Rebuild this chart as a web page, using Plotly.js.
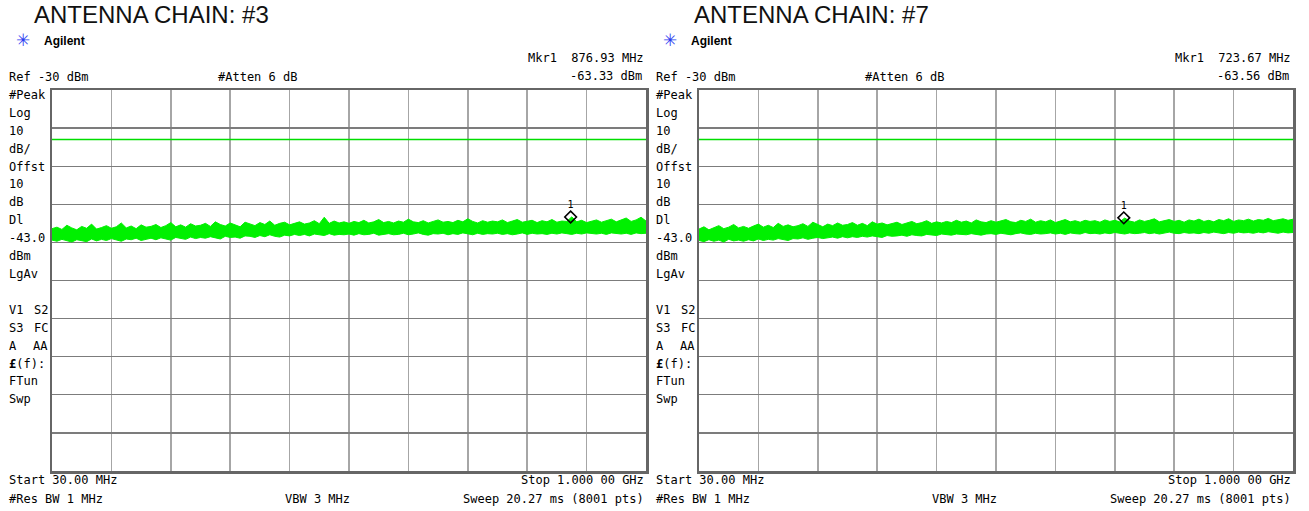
<!DOCTYPE html>
<html>
<head>
<meta charset="utf-8">
<script src="https://cdn.plot.ly/plotly-3.0.1.min.js"></script>
<style>
html,body{margin:0;padding:0;background:#fff;}
#chart{width:1309px;height:511px;}
</style>
</head>
<body>
<div id="chart"></div>
<script>
// ---------- data ----------
const chartTitles = ["ANTENNA CHAIN: #3", "ANTENNA CHAIN: #7"];
const refLevelDbm = -30;
const dbPerDiv = 10;
const displayLineDbm = -43.0;
const sweepStartMHz = 30;
const sweepStopMHz = 1000;
const markerFreqMHz = [876.93, 723.67];
const markerDbm = [-63.33, -63.56];
const headerLeft = "Ref -30 dBm";
const headerMid = "#Atten 6 dB";
const markerFreqText = ["Mkr1  876.93 MHz", "Mkr1  723.67 MHz"];
const markerAmpText = ["-63.33 dBm", "-63.56 dBm"];
const sideLabelsLeft = ["#Peak","Log","10","dB/","Offst","10","dB","Dl","-43.0","dBm","LgAv","","V1","S3","A","<b>£</b>(f):","FTun","Swp"];
const sideLabelsRight = ["","","","","","","","","","","","","S2","FC","AA","","",""];
const footStart = "Start 30.00 MHz";
const footStop = "Stop 1.000 00 GHz";
const footRbw = "#Res BW 1 MHz";
const footVbw = "VBW 3 MHz";
const footSweep = "Sweep 20.27 ms (8001 pts)";

// trace envelopes (dBm), 121 points evenly spread over the sweep
const traceHigh3 = [
-66.4,-66.0,-66.6,-65.5,-66.2,-66.7,-65.8,-66.3,-65.2,-66.5,
-66.1,-65.6,-66.3,-65.9,-64.9,-66.2,-65.7,-66.4,-65.4,-66.0,
-65.8,-65.3,-66.1,-65.6,-64.8,-65.9,-65.4,-66.0,-65.1,-65.7,
-65.5,-65.0,-65.8,-64.6,-65.3,-65.7,-64.9,-65.4,-65.9,-64.7,
-65.2,-65.6,-64.8,-65.3,-64.4,-65.5,-65.0,-64.7,-65.4,-64.9,
-64.6,-65.2,-64.9,-64.3,-65.1,-63.4,-65.0,-64.4,-64.9,-64.6,
-65.0,-64.5,-64.8,-64.2,-64.9,-64.6,-64.0,-64.8,-64.5,-64.9,
-64.4,-64.7,-63.9,-64.6,-64.8,-64.3,-64.9,-64.5,-64.1,-64.7,
-64.5,-64.8,-64.2,-64.6,-63.8,-64.5,-64.9,-64.3,-64.7,-64.4,
-64.6,-64.1,-64.8,-64.4,-64.0,-64.7,-64.5,-64.2,-64.8,-64.3,
-64.6,-64.0,-64.7,-64.4,-64.5,-63.3,-64.6,-64.2,-64.8,-64.4,
-64.1,-64.7,-64.3,-63.9,-64.6,-64.2,-63.6,-64.5,-64.1,-63.4,-64.4];
const traceLow3 = [
-69.4,-69.7,-69.2,-69.6,-69.9,-69.3,-69.5,-69.8,-69.1,-69.6,
-69.2,-69.5,-69.0,-69.4,-69.7,-69.1,-69.3,-68.9,-69.5,-69.2,
-68.9,-69.3,-68.8,-69.1,-69.4,-68.7,-69.0,-69.2,-68.6,-69.0,
-68.7,-68.9,-68.5,-68.8,-69.1,-68.4,-68.7,-68.6,-68.9,-68.3,
-68.4,-68.7,-68.2,-68.5,-68.0,-68.4,-68.6,-68.1,-68.3,-67.9,
-68.2,-67.9,-68.3,-67.8,-68.0,-68.2,-67.7,-68.1,-67.9,-68.0,
-67.8,-68.1,-67.7,-68.0,-67.9,-67.6,-68.1,-67.8,-67.7,-68.0,
-67.9,-67.6,-68.0,-67.8,-67.5,-67.9,-68.1,-67.7,-67.8,-67.6,
-68.0,-67.7,-67.9,-67.5,-67.8,-68.0,-67.6,-67.9,-67.7,-67.8,
-67.6,-67.9,-67.7,-68.0,-67.8,-67.5,-67.9,-67.6,-67.8,-67.7,
-67.9,-67.6,-67.8,-67.5,-67.7,-67.9,-67.6,-67.8,-67.5,-67.7,
-67.8,-67.6,-67.9,-67.5,-67.7,-67.8,-67.6,-67.9,-67.5,-67.7,-67.6];
const traceHigh7 = [
-66.5,-65.9,-66.7,-66.1,-65.6,-66.4,-66.0,-65.3,-66.2,-65.8,
-66.3,-65.7,-65.2,-66.0,-65.5,-66.1,-65.0,-65.8,-65.4,-65.9,
-65.6,-65.1,-65.8,-64.7,-65.4,-65.9,-65.2,-65.6,-64.9,-65.5,
-65.3,-64.8,-65.5,-65.0,-65.6,-64.6,-65.2,-64.9,-65.4,-65.0,
-64.7,-65.3,-64.9,-64.5,-65.1,-64.8,-64.3,-65.0,-64.6,-64.9,
-64.5,-64.8,-64.2,-64.7,-64.4,-64.9,-64.1,-64.6,-64.8,-64.3,
-64.7,-64.4,-64.0,-64.6,-64.8,-64.2,-64.5,-63.9,-64.7,-64.3,
-64.6,-64.1,-64.8,-64.4,-64.0,-64.6,-64.3,-64.7,-64.2,-64.5,
-64.3,-64.7,-64.1,-64.5,-64.2,-64.6,-63.6,-64.4,-64.7,-64.1,
-64.5,-64.2,-63.8,-64.6,-64.3,-64.0,-64.5,-64.2,-64.7,-64.1,
-64.4,-63.9,-64.5,-64.2,-64.6,-64.0,-64.3,-63.8,-64.5,-64.1,
-64.3,-63.9,-64.4,-64.0,-64.2,-63.7,-64.3,-64.0,-63.8,-64.2,-63.9];
const traceLow7 = [
-69.5,-69.8,-69.3,-69.7,-69.4,-69.9,-69.2,-69.6,-69.4,-69.7,
-69.3,-69.6,-69.1,-69.5,-69.2,-69.4,-69.0,-69.3,-69.5,-69.0,
-69.1,-68.8,-69.2,-68.9,-68.7,-69.0,-68.8,-68.6,-68.9,-68.5,
-68.8,-68.5,-68.7,-68.4,-68.6,-68.3,-68.5,-68.7,-68.2,-68.4,
-68.3,-68.1,-68.4,-68.0,-68.2,-68.3,-67.9,-68.1,-68.2,-67.8,
-68.0,-68.1,-67.8,-67.9,-68.0,-67.7,-67.9,-68.1,-67.8,-67.7,
-67.9,-67.6,-67.8,-68.0,-67.7,-67.5,-67.8,-67.9,-67.6,-67.8,
-67.7,-67.5,-67.8,-67.6,-67.9,-67.5,-67.7,-67.8,-67.4,-67.7,
-67.6,-67.8,-67.5,-67.7,-67.4,-67.6,-67.8,-67.5,-67.7,-67.6,
-67.4,-67.7,-67.5,-67.8,-67.6,-67.3,-67.6,-67.7,-67.4,-67.6,
-67.5,-67.7,-67.4,-67.6,-67.3,-67.5,-67.7,-67.4,-67.6,-67.3,
-67.5,-67.4,-67.6,-67.3,-67.5,-67.2,-67.4,-67.6,-67.3,-67.5,-67.4];

const highs = [traceHigh3, traceHigh7];
const lows = [traceLow3, traceLow7];

// ---------- build ----------
const W = 1309, H = 511;
const px = x => x / W;
const py = y => 1 - y / H;

function sweepFreqs(n) {
  const out = [];
  for (let i = 0; i < n; i++) out.push(sweepStartMHz + i * (sweepStopMHz - sweepStartMHz) / (n - 1));
  return out;
}

const traceGreen = '#00f000';
const dlGreen = '#00dd00';
const mono = "DejaVu Sans Mono, Liberation Mono, monospace";

const data = [];
const annotations = [];
const offsets = [0, 647];
const titleX = [32, 692];

for (let c = 0; c < 2; c++) {
  const xa = c === 0 ? 'x' : 'x2';
  const ya = c === 0 ? 'y' : 'y2';
  const f = sweepFreqs(highs[c].length);
  data.push({x: [sweepStartMHz, sweepStopMHz], y: [displayLineDbm, displayLineDbm], xaxis: xa, yaxis: ya,
    mode: 'lines', line: {color: dlGreen, width: 1.6}});
  data.push({x: f, y: lows[c], xaxis: xa, yaxis: ya, mode: 'lines', line: {color: traceGreen, width: 1}});
  data.push({x: f, y: highs[c], xaxis: xa, yaxis: ya, mode: 'lines', fill: 'tonexty', fillcolor: traceGreen,
    line: {color: traceGreen, width: 1}});
  data.push({x: [markerFreqMHz[c]], y: [markerDbm[c]], xaxis: xa, yaxis: ya, mode: 'markers+text',
    marker: {symbol: 'diamond-open', size: 9, color: '#000', line: {color: '#000', width: 1.6}},
    text: ['1'], textposition: 'top center', textfont: {family: mono, size: 10, color: '#000'}});

  const o = offsets[c];
  const ann = (text, x, y, xanchor, opts) => annotations.push(Object.assign({
    text: text, x: px(x + o), y: py(y), xref: 'paper', yref: 'paper', xanchor: xanchor, yanchor: 'middle',
    showarrow: false, font: {family: mono, size: 12, color: '#000'}}, opts || {}));

  annotations.push({text: chartTitles[c], x: px(titleX[c]), y: py(14), xref: 'paper', yref: 'paper',
    xanchor: 'left', yanchor: 'middle', showarrow: false,
    font: {family: 'Liberation Sans, Arial, sans-serif', size: 24, color: '#111'}});
  ann('✳', 14, 40, 'left', {font: {family: 'DejaVu Sans', size: 17, color: '#2a3cf0'}});
  ann('<b>Agilent</b>', 42, 41, 'left', {font: {family: 'Liberation Sans, Arial, sans-serif', size: 12, color: '#000'}});
  ann(markerFreqText[c], 646, 58, 'right');
  ann(markerAmpText[c], 644, 76, 'right');
  ann(headerLeft, 7, 77, 'left');
  ann(headerMid, 216, 77, 'left');
  sideLabelsLeft.forEach((t, i) => { if (t) ann(t, 7, 95 + i * 17.9, 'left'); });
  sideLabelsRight.forEach((t, i) => { if (t) ann(t, 50, 95 + i * 17.9, 'right'); });
  ann(footStart, 7, 480, 'left');
  ann(footStop, 646, 480, 'right');
  ann(footRbw, 7, 499, 'left');
  ann(footVbw, 283, 499, 'left');
  ann(footSweep, 646, 499, 'right');
}

function xAxis(dom) {
  return {domain: dom, range: [sweepStartMHz, sweepStopMHz], tick0: sweepStartMHz,
    dtick: (sweepStopMHz - sweepStartMHz) / 10, showticklabels: false, ticks: '', zeroline: false,
    showgrid: true, gridcolor: '#a6a6a6', gridwidth: 1.6, showline: true, mirror: true,
    linecolor: '#666', linewidth: 2.5, fixedrange: true};
}
function yAxis(anchor) {
  return {domain: [1 - 471 / H, 1 - 90 / H], anchor: anchor, range: [refLevelDbm - 10 * dbPerDiv, refLevelDbm],
    tick0: refLevelDbm, dtick: dbPerDiv, showticklabels: false, ticks: '', zeroline: false,
    showgrid: true, gridcolor: '#7c7c7c', gridwidth: 1.3, showline: true, mirror: true,
    linecolor: '#666', linewidth: 2.5, fixedrange: true};
}

const layout = {
  width: W, height: H, margin: {l: 0, r: 0, t: 0, b: 0},
  paper_bgcolor: '#fff', plot_bgcolor: '#fff', showlegend: false, hovermode: false,
  xaxis: Object.assign(xAxis([52 / W, 646 / W]), {anchor: 'y'}),
  yaxis: yAxis('x'),
  xaxis2: Object.assign(xAxis([699 / W, 1293 / W]), {anchor: 'y2'}),
  yaxis2: yAxis('x2'),
  annotations: annotations
};

Plotly.newPlot('chart', data, layout, {staticPlot: true, displayModeBar: false});
</script>
</body>
</html>
